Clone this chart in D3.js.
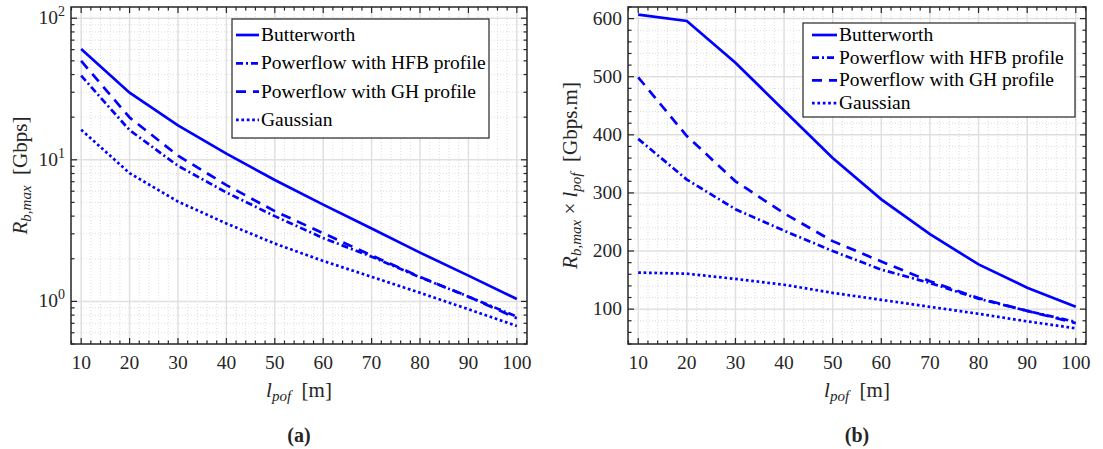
<!DOCTYPE html>
<html lang="en">
<head>
<meta charset="UTF-8">
<title>Rb,max vs POF length</title>
<script src="https://d3js.org/d3.v7.min.js"></script>
<style>
  body { margin: 0; background: #fff; }
  svg text { font-family: 'Liberation Serif', 'DejaVu Serif', 'Times New Roman', serif; fill: #262626; }
  .tick-label { font-size: 19.5px; }
  .legend-text { font-size: 19.5px; fill: #000; }
</style>
</head>
<body>
<div id="chart"></div>
<script>
// ---- data ----
const lpof = [10, 20, 30, 40, 50, 60, 70, 80, 90, 100];
const seriesNames = ["Butterworth", "Powerflow with HFB profile", "Powerflow with GH profile", "Gaussian"];

// (a) R_b,max [Gbps]
const rButter = [60.7, 29.8, 17.5, 11.05, 7.2, 4.82, 3.27, 2.21, 1.52, 1.04];
const rHFB    = [39.3, 16.2, 9.07, 5.88, 4.0, 2.8, 2.07, 1.48, 1.08, 0.78];
const rGH     = [49.9, 19.9, 10.7, 6.63, 4.34, 3.03, 2.11, 1.49, 1.08, 0.76];
const rGauss  = [16.3, 8.05, 5.07, 3.55, 2.56, 1.93, 1.49, 1.15, 0.88, 0.67];

// (b) R_b,max x l_pof [Gbps.m]
const rlButter = [607, 596, 524, 442, 360, 289, 229, 177, 137, 104];
const rlHFB    = [393, 323, 272, 235, 200, 168, 145, 118, 97, 78];
const rlGH     = [499, 398, 320, 265, 217, 182, 148, 119, 97, 76];
const rlGauss  = [163, 161, 152, 142, 128, 116, 104, 92, 79, 67];

const xTicks = [10, 20, 30, 40, 50, 60, 70, 80, 90, 100];
const logTicks = [1, 10, 100];
const linTicks = [100, 200, 300, 400, 500, 600];

const W = 1103, H = 449;
const blue = "#0000ff";
const dashes = ["none", "7,3,2,3", "10,7", "2.7,2.7"];
const serif = "'Liberation Serif', 'DejaVu Serif', serif";

const svg = d3.select("#chart").append("svg")
  .attr("width", W).attr("height", H)
  .attr("font-family", serif);

function drawPanel(opt) {
  const g = svg.append("g");
  const x = d3.scaleLinear().domain([7.9, 102.1]).range([opt.left, opt.right]);
  const y = opt.log
    ? d3.scaleLog().domain([0.5, 120]).range([opt.bottom, opt.top])
    : d3.scaleLinear().domain([40, 620]).range([opt.bottom, opt.top]);

  // minor grid
  const xMinor = d3.range(8, 103, 2).filter(v => v % 10 !== 0);
  let yMinor;
  if (opt.log) {
    yMinor = [];
    [0.1, 1, 10, 100].forEach(d => d3.range(2, 10).forEach(k => {
      const v = d * k;
      if (v >= 0.5 && v <= 120) yMinor.push(v);
    }));
  } else {
    yMinor = d3.range(40, 621, 20).filter(v => v % 100 !== 0);
  }
  g.selectAll(".xminor").data(xMinor).join("line")
    .attr("x1", d => x(d)).attr("x2", d => x(d))
    .attr("y1", opt.top).attr("y2", opt.bottom)
    .attr("stroke", "#d4d4d4").attr("stroke-width", 0.8).attr("stroke-dasharray", "1,2");
  g.selectAll(".yminor").data(yMinor).join("line")
    .attr("x1", opt.left).attr("x2", opt.right)
    .attr("y1", d => y(d)).attr("y2", d => y(d))
    .attr("stroke", "#d4d4d4").attr("stroke-width", 0.8).attr("stroke-dasharray", "1,2");

  // major grid
  const yTicks = opt.log ? logTicks : linTicks;
  g.selectAll(".xmajor").data(xTicks).join("line")
    .attr("x1", d => x(d)).attr("x2", d => x(d))
    .attr("y1", opt.top).attr("y2", opt.bottom)
    .attr("stroke", "#e0e0e0").attr("stroke-width", 1.5);
  g.selectAll(".ymajor").data(yTicks).join("line")
    .attr("x1", opt.left).attr("x2", opt.right)
    .attr("y1", d => y(d)).attr("y2", d => y(d))
    .attr("stroke", "#e0e0e0").attr("stroke-width", 1.5);

  // data lines
  const line = d3.line().x(d => x(d[0])).y(d => y(d[1]));
  opt.series.forEach((s, i) => {
    g.append("path")
      .datum(lpof.map((l, j) => [l, s[j]]))
      .attr("d", line)
      .attr("fill", "none")
      .attr("stroke", blue)
      .attr("stroke-width", 2.7)
      .attr("stroke-dasharray", dashes[i]);
  });

  // ticks (inward, all four sides)
  const tk = g.append("g").attr("stroke", "#262626").attr("stroke-width", 1.2);
  const xAll = xTicks.map(v => [v, 6]).concat(xMinor.map(v => [v, 3.5]));
  xAll.forEach(([v, len]) => {
    tk.append("line").attr("x1", x(v)).attr("x2", x(v)).attr("y1", opt.bottom).attr("y2", opt.bottom - len);
    tk.append("line").attr("x1", x(v)).attr("x2", x(v)).attr("y1", opt.top).attr("y2", opt.top + len);
  });
  const yAll = yTicks.map(v => [v, 6]).concat(yMinor.map(v => [v, 3.5]));
  yAll.forEach(([v, len]) => {
    tk.append("line").attr("y1", y(v)).attr("y2", y(v)).attr("x1", opt.left).attr("x2", opt.left + len);
    tk.append("line").attr("y1", y(v)).attr("y2", y(v)).attr("x1", opt.right).attr("x2", opt.right - len);
  });

  // box
  g.append("rect")
    .attr("x", opt.left).attr("y", opt.top)
    .attr("width", opt.right - opt.left).attr("height", opt.bottom - opt.top)
    .attr("fill", "none").attr("stroke", "#262626").attr("stroke-width", 1.5);

  // tick labels
  g.selectAll(".xl").data(xTicks).join("text")
    .attr("class", "tick-label")
    .attr("x", d => x(d)).attr("y", opt.bottom + 25)
    .attr("text-anchor", "middle")
    .text(d => d);
  if (opt.log) {
    const yl = g.selectAll(".yl").data(yTicks).join("text")
      .attr("class", "tick-label")
      .attr("x", opt.left - 6).attr("y", d => y(d) + 6)
      .attr("text-anchor", "end");
    yl.append("tspan").text("10");
    yl.append("tspan").attr("dy", -8).attr("font-size", 14).text(d => Math.round(Math.log10(d)));
  } else {
    g.selectAll(".yl").data(yTicks).join("text")
      .attr("class", "tick-label")
      .attr("x", opt.left - 6).attr("y", d => y(d) + 6)
      .attr("text-anchor", "end")
      .text(d => d);
  }

  // x label
  const cx = (opt.left + opt.right) / 2;
  const xl = g.append("text").attr("x", cx).attr("y", 397)
    .attr("text-anchor", "middle").attr("font-size", 21);
  xl.append("tspan").attr("font-style", "italic").text("l");
  xl.append("tspan").attr("font-style", "italic").attr("font-size", 15).attr("dy", 4).text("pof");
  xl.append("tspan").attr("dy", -4).text("\u2002[m]");

  // y label
  const cy = (opt.top + opt.bottom) / 2;
  const ylab = g.append("text")
    .attr("transform", `translate(${opt.ylabX},${cy}) rotate(-90)`)
    .attr("text-anchor", "middle").attr("font-size", 21);
  ylab.append("tspan").attr("font-style", "italic").text("R");
  ylab.append("tspan").attr("font-style", "italic").attr("font-size", 15).attr("dy", 4).text("b,max");
  if (!opt.log) {
    ylab.append("tspan").attr("dy", -4).text(" \u00d7 ");
    ylab.append("tspan").attr("font-style", "italic").text("l");
    ylab.append("tspan").attr("font-style", "italic").attr("font-size", 15).attr("dy", 4).text("pof");
  }
  ylab.append("tspan").attr("dy", -4).text("\u2002" + opt.unit);

  // panel caption
  g.append("text").attr("x", cx).attr("y", 442)
    .attr("text-anchor", "middle").attr("font-size", 20).attr("font-weight", "bold")
    .attr("fill", "#000")
    .text(opt.caption);

  // legend
  const L = opt.legend;
  const lg = g.append("g");
  lg.append("rect")
    .attr("x", L.x).attr("y", L.y).attr("width", L.w).attr("height", L.h)
    .attr("fill", "#fff").attr("stroke", "#262626").attr("stroke-width", 1.2);
  seriesNames.forEach((name, i) => {
    const ry = L.y + L.first + i * L.step;
    lg.append("line")
      .attr("x1", L.x + L.lx0).attr("x2", L.x + L.lx1)
      .attr("y1", ry).attr("y2", ry)
      .attr("stroke", blue).attr("stroke-width", 2.7)
      .attr("stroke-dasharray", dashes[i]);
    lg.append("text").attr("class", "legend-text")
      .attr("x", L.x + L.lx1 + 2).attr("y", ry + 6)
      .text(name);
  });
}

drawPanel({
  left: 71, right: 527, top: 7, bottom: 344,
  log: true,
  series: [rButter, rHFB, rGH, rGauss],
  ylabX: 27, unit: "[Gbps]", caption: "(a)",
  legend: { x: 232, y: 19, w: 257, h: 119, first: 16, step: 28.3, lx0: 4, lx1: 27 }
});

drawPanel({
  left: 628, right: 1086, top: 7, bottom: 344,
  log: false,
  series: [rlButter, rlHFB, rlGH, rlGauss],
  ylabX: 577, unit: "[Gbps.m]", caption: "(b)",
  legend: { x: 803, y: 23, w: 272, h: 94, first: 12, step: 22.7, lx0: 9, lx1: 34 }
});
</script>
</body>
</html>
